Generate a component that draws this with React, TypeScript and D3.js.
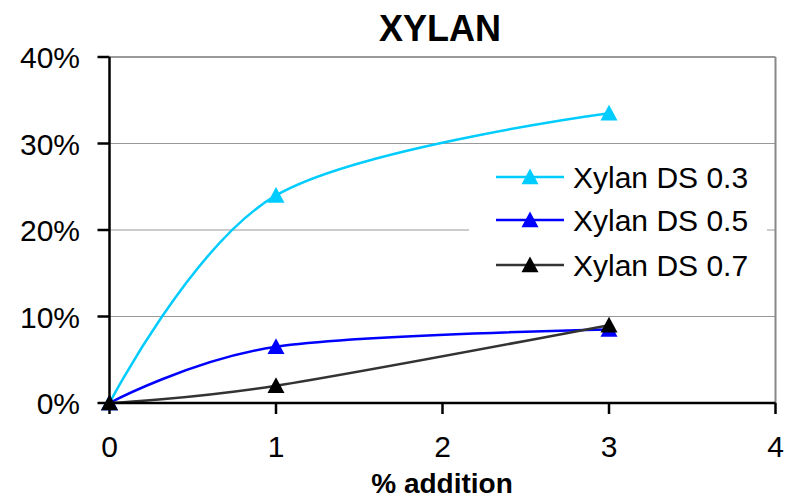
import React from "react";
import * as d3 from "d3";

const xValues = [0, 1, 3];
const seriesNames = ["Xylan DS 0.3", "Xylan DS 0.5", "Xylan DS 0.7"];
const ds03 = [0, 0.24, 0.335];
const ds05 = [0, 0.065, 0.085];
const ds07 = [0, 0.02, 0.09];
const lineColors = ["#00CCFF", "#0000FF", "#333333"];
const markerColors = ["#00CCFF", "#0000FF", "#000000"];
const xTicks = [0, 1, 2, 3, 4];
const yTicks = [0, 0.1, 0.2, 0.3, 0.4];

const W = 785;
const H = 499;
const L = 109.5, R = 775.5, T = 57, B = 403;

export default function App() {
  const x = d3.scaleLinear().domain([0, 4]).range([L, R]);
  const y = d3.scaleLinear().domain([0, 0.4]).range([B, T]);
  const all = [ds03, ds05, ds07];
  const line = d3
    .line<[number, number]>()
    .x((d) => x(d[0]))
    .y((d) => y(d[1]))
    .curve(d3.curveCardinal.tension(0));
  const tri = (cx: number, cy: number) => {
    const s = 8.5;
    return `M${cx},${cy - s}L${cx + s},${cy + s * 0.85}L${cx - s},${cy + s * 0.85}Z`;
  };
  const font = "Liberation Sans, Arial, sans-serif";
  const legX1 = 496, legX2 = 564, legTextX = 573;
  const legY = [177, 220, 265];
  return (
    <svg width={W} height={H} style={{ position: "absolute", left: 0, top: 0 }}>
      <rect x={0} y={0} width={W} height={H} fill="#fff" />
      {yTicks.slice(1).map((t) => (
        <line key={t} x1={L} x2={R} y1={y(t)} y2={y(t)} stroke="#999" strokeWidth={t === 0.4 ? 2 : 1.2} />
      ))}
      <line x1={R} x2={R} y1={T} y2={B} stroke="#888" strokeWidth={2} />
      <rect x={469} y={150} width={298} height={142} fill="#fff" />
      {all.map((vals, i) => (
        <path
          key={i}
          d={line(xValues.map((v, j) => [v, vals[j]] as [number, number])) || ""}
          fill="none"
          stroke={lineColors[i]}
          strokeWidth={2.5}
        />
      ))}
      {all.map((vals, i) =>
        xValues.map((v, j) => (
          <path key={`${i}-${j}`} d={tri(x(v), y(vals[j]))} fill={markerColors[i]} />
        ))
      )}
      <line x1={L} x2={L} y1={T} y2={B} stroke="#000" strokeWidth={2.5} />
      <line x1={L} x2={R} y1={B} y2={B} stroke="#000" strokeWidth={2.5} />
      {yTicks.map((t) => (
        <g key={t}>
          <line x1={L - 12} x2={L} y1={y(t)} y2={y(t)} stroke="#000" strokeWidth={2.5} />
          <text x={80} y={y(t) + 11} textAnchor="end" fontFamily={font} fontSize={30} fill="#000">
            {`${Math.round(t * 100)}%`}
          </text>
        </g>
      ))}
      {xTicks.map((t) => (
        <g key={t}>
          <line x1={x(t)} x2={x(t)} y1={B} y2={B + 11} stroke="#000" strokeWidth={2.5} />
          <text x={x(t)} y={457} textAnchor="middle" fontFamily={font} fontSize={30} fill="#000">
            {t}
          </text>
        </g>
      ))}
      <text x={440} y={41} textAnchor="middle" fontFamily={font} fontSize={36} fontWeight="bold">
        XYLAN
      </text>
      <text x={442} y={493} textAnchor="middle" fontFamily={font} fontSize={28} fontWeight="bold">
        % addition
      </text>
      {seriesNames.map((n, i) => (
        <g key={n}>
          <line x1={legX1} x2={legX2} y1={legY[i]} y2={legY[i]} stroke={lineColors[i]} strokeWidth={2.5} />
          <path d={tri((legX1 + legX2) / 2, legY[i])} fill={markerColors[i]} />
          <text x={legTextX} y={legY[i] + 11} fontFamily={font} fontSize={30} fill="#000">
            {n}
          </text>
        </g>
      ))}
    </svg>
  );
}
